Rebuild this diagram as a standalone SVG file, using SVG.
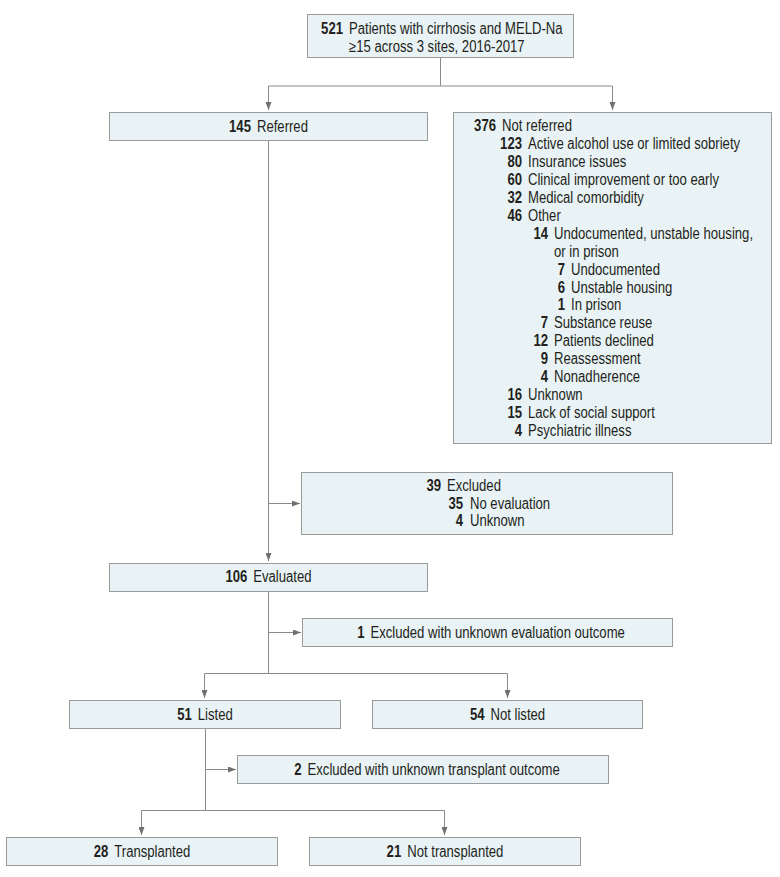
<svg xmlns="http://www.w3.org/2000/svg" width="780" height="877" viewBox="0 0 780 877">
<style>
text{font-family:"Liberation Sans",Arial,sans-serif;font-size:16px;fill:#231f20}
.n{font-weight:bold}
.e{text-anchor:end;font-weight:bold}
.c{text-anchor:middle}
.box{fill:#e9f3f5;stroke:#9a9a9a;stroke-width:1}
.ln{fill:none;stroke:#8a8a8a;stroke-width:1}
.ar{fill:none;stroke:#8a8a8a;stroke-width:1;marker-end:url(#ah)}
</style>
<defs>
<marker id="ah" viewBox="0 0 8 6" refX="8" refY="3" markerWidth="8" markerHeight="6" markerUnits="userSpaceOnUse" orient="auto">
<path d="M0,0 L8,3 L0,6 z" fill="#707070"/>
</marker>
</defs>
<rect width="780" height="877" fill="#ffffff"/>
<g id="connectors">
<path class="ln" d="M440.5,58 V86 M268.5,86 H612.5"/>
<path class="ar" d="M268.5,86 V110"/>
<path class="ar" d="M612.5,86 V110"/>
<path class="ar" d="M268.5,141 V561"/>
<path class="ar" d="M268.5,503.5 H300"/>
<path class="ln" d="M268.5,591 V673.5 M204.5,673.5 H507.5"/>
<path class="ar" d="M268.5,632.5 H301"/>
<path class="ar" d="M204.5,673.5 V698"/>
<path class="ar" d="M507.5,673.5 V698"/>
<path class="ln" d="M205.5,728 V810.5 M141.5,810.5 H444.5"/>
<path class="ar" d="M205.5,769.5 H236"/>
<path class="ar" d="M141.5,810.5 V835"/>
<path class="ar" d="M444.5,810.5 V835"/>
</g>
<g id="n521">
<rect class="box" x="307.5" y="14.5" width="266" height="43"/>
<g transform="matrix(0.82 0 0 1 343 0)">
<text class="e" x="0" y="34.5">521</text>
<text x="7.3" y="34.5">Patients with cirrhosis and MELD-Na</text>
<text x="7.3" y="52">≥15 across 3 sites, 2016-2017</text>
</g>
</g>
<g id="referred">
<rect class="box" x="109.5" y="112.5" width="318" height="28"/>
<text class="c" transform="matrix(0.82 0 0 1 268.5 0)" x="0" y="132"><tspan class="n">145</tspan><tspan dx="7.3">Referred</tspan></text>
</g>
<g id="notreferred">
<rect class="box" x="453.5" y="112.5" width="318" height="331"/>
<g transform="matrix(0.82 0 0 1 496 0)">
<text class="e" x="0" y="131.5">376</text><text x="7.3" y="131.5">Not referred</text>
</g>
<g transform="matrix(0.82 0 0 1 522 0)">
<text class="e" x="0" y="149.4">123</text><text x="7.3" y="149.4">Active alcohol use or limited sobriety</text>
<text class="e" x="0" y="167.3">80</text><text x="7.3" y="167.3">Insurance issues</text>
<text class="e" x="0" y="185.2">60</text><text x="7.3" y="185.2">Clinical improvement or too early</text>
<text class="e" x="0" y="203.1">32</text><text x="7.3" y="203.1">Medical comorbidity</text>
<text class="e" x="0" y="221">46</text><text x="7.3" y="221">Other</text>
<text class="e" x="0" y="400">16</text><text x="7.3" y="400">Unknown</text>
<text class="e" x="0" y="417.9">15</text><text x="7.3" y="417.9">Lack of social support</text>
<text class="e" x="0" y="435.8">4</text><text x="7.3" y="435.8">Psychiatric illness</text>
</g>
<g transform="matrix(0.82 0 0 1 548 0)">
<text class="e" x="0" y="238.9">14</text><text x="7.3" y="238.9">Undocumented, unstable housing,</text>
<text x="7.3" y="256.8">or in prison</text>
<text class="e" x="0" y="328.4">7</text><text x="7.3" y="328.4">Substance reuse</text>
<text class="e" x="0" y="346.3">12</text><text x="7.3" y="346.3">Patients declined</text>
<text class="e" x="0" y="364.2">9</text><text x="7.3" y="364.2">Reassessment</text>
<text class="e" x="0" y="382.1">4</text><text x="7.3" y="382.1">Nonadherence</text>
</g>
<g transform="matrix(0.82 0 0 1 565 0)">
<text class="e" x="0" y="274.7">7</text><text x="7.3" y="274.7">Undocumented</text>
<text class="e" x="0" y="292.6">6</text><text x="7.3" y="292.6">Unstable housing</text>
<text class="e" x="0" y="310.5">1</text><text x="7.3" y="310.5">In prison</text>
</g>
</g>
<g id="excluded39">
<rect class="box" x="301.5" y="472.5" width="371" height="62"/>
<g transform="matrix(0.82 0 0 1 441 0)">
<text class="e" x="0" y="491.5">39</text><text x="7.3" y="491.5">Excluded</text>
</g>
<g transform="matrix(0.82 0 0 1 463 0)">
<text class="e" x="0" y="509">35</text><text x="8.5" y="509">No evaluation</text>
<text class="e" x="0" y="526.5">4</text><text x="8.5" y="526.5">Unknown</text>
</g>
</g>
<g id="evaluated">
<rect class="box" x="109.5" y="563.5" width="318" height="28"/>
<text class="c" transform="matrix(0.82 0 0 1 268.5 0)" x="0" y="582.5"><tspan class="n">106</tspan><tspan dx="7.3">Evaluated</tspan></text>
</g>
<g id="excluded1">
<rect class="box" x="302.5" y="618.5" width="370" height="28"/>
<text class="c" transform="matrix(0.82 0 0 1 491 0)" x="0" y="638"><tspan class="n">1</tspan><tspan dx="7.3">Excluded with unknown evaluation outcome</tspan></text>
</g>
<g id="listed">
<rect class="box" x="69.5" y="700.5" width="271" height="28"/>
<text class="c" transform="matrix(0.82 0 0 1 205 0)" x="0" y="720"><tspan class="n">51</tspan><tspan dx="7.3">Listed</tspan></text>
</g>
<g id="notlisted">
<rect class="box" x="372.5" y="700.5" width="270" height="28"/>
<text class="c" transform="matrix(0.82 0 0 1 507.5 0)" x="0" y="720"><tspan class="n">54</tspan><tspan dx="7.3">Not listed</tspan></text>
</g>
<g id="excluded2">
<rect class="box" x="237.5" y="755.5" width="371" height="28"/>
<text class="c" transform="matrix(0.82 0 0 1 427 0)" x="0" y="775"><tspan class="n">2</tspan><tspan dx="7.3">Excluded with unknown transplant outcome</tspan></text>
</g>
<g id="transplanted">
<rect class="box" x="6.5" y="837.5" width="271" height="28"/>
<text class="c" transform="matrix(0.82 0 0 1 142 0)" x="0" y="857"><tspan class="n">28</tspan><tspan dx="7.3">Transplanted</tspan></text>
</g>
<g id="nottransplanted">
<rect class="box" x="309.5" y="837.5" width="271" height="28"/>
<text class="c" transform="matrix(0.82 0 0 1 445 0)" x="0" y="857"><tspan class="n">21</tspan><tspan dx="7.3">Not transplanted</tspan></text>
</g>
</svg>
